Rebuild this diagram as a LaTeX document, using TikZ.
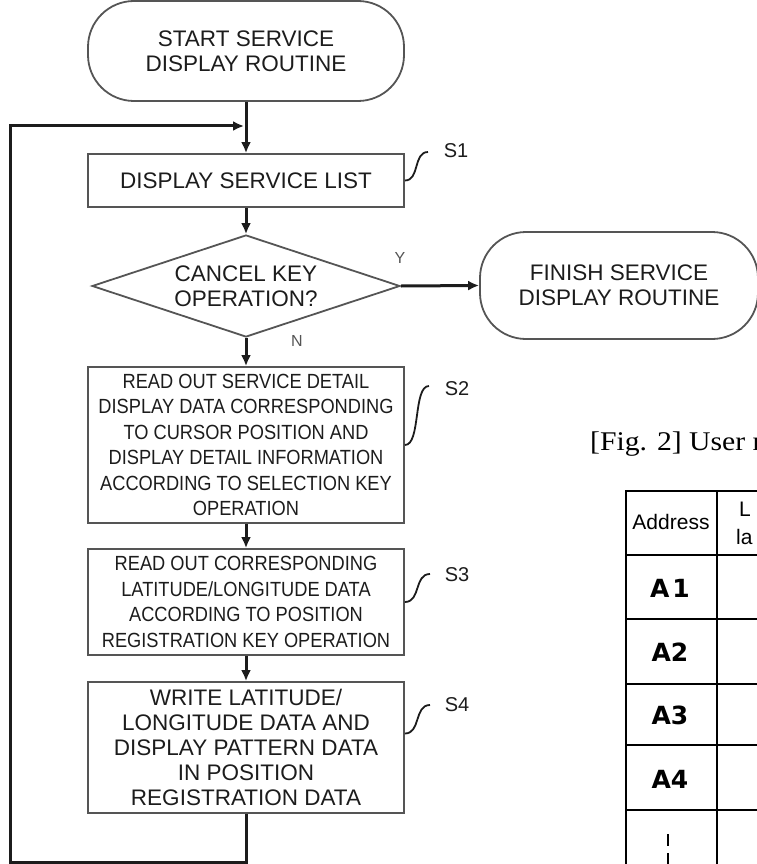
\documentclass[tikz,border=0pt]{standalone}
\usepackage{fontspec}
\setmainfont{Liberation Sans}
\newfontfamily\narrowfont{Liberation Sans}[FakeStretch=0.89]
\newfontfamily\capfont{Liberation Serif}[FakeStretch=1.1]
\newfontfamily\cellfont{DejaVu Sans}
\usetikzlibrary{arrows.meta,shapes.geometric}
\newcommand\bigtxt{\fontsize{22.5}{25}\selectfont}
\newcommand\smtxt{\narrowfont\fontsize{20.5}{25.5}\selectfont}
\definecolor{edge}{HTML}{555555}
\definecolor{ink}{HTML}{1C1C1C}
\tikzset{
  stepbox/.style={draw=edge, line width=1.8pt, rectangle, minimum width=316pt,
    inner sep=0pt, align=center, text=ink},
  termbox/.style={draw=edge, line width=1.8pt, rectangle, rounded corners=46pt,
    inner sep=0pt, align=center, text=ink, font=\bigtxt},
  decision/.style={draw=edge, line width=1.8pt, diamond, aspect=3, inner sep=0pt,
    minimum width=308pt, minimum height=102pt, align=center, text=ink, font=\bigtxt},
  flow/.style={draw=ink, line width=3pt},
  flowarrow/.style={flow, -{Latex[length=11pt,width=10pt]}},
  squiggle/.style={draw=ink, line width=1.8pt},
  steplabel/.style={text=ink, font=\fontsize{20}{22}\selectfont, inner sep=0pt},
  branch/.style={text=edge, font=\fontsize{16}{18}\selectfont, inner sep=0pt},
  grid/.style={draw=black, line width=2.8pt},
  headtext/.style={inner sep=0pt, font=\fontsize{21}{23}\selectfont},
  cell/.style={font=\cellfont\bfseries\fontsize{25}{27}\selectfont, inner sep=0pt},
}
\begin{document}
\begin{tikzpicture}[x=1pt,y=-1pt]
\useasboundingbox (0,0) rectangle (757,864);
\clip (0,0) rectangle (757,864);

% ---- flowchart nodes ----
\node[termbox, minimum width=316pt, minimum height=100pt] (start) at (246,51)
  {START SERVICE\\DISPLAY ROUTINE};
\node[stepbox, minimum height=53pt, font=\bigtxt] (s1) at (246,180.5)
  {DISPLAY SERVICE LIST};
\node[decision] (dec) at (246,286) {CANCEL KEY\\OPERATION?};
\node[termbox, minimum width=278pt, minimum height=107pt] (fin) at (619,285.5)
  {FINISH SERVICE\\DISPLAY ROUTINE};
\node[stepbox, minimum height=156pt, font=\smtxt] (s2) at (246,445)
  {READ OUT SERVICE DETAIL\\DISPLAY DATA CORRESPONDING\\TO CURSOR POSITION AND\\
   DISPLAY DETAIL INFORMATION\\ACCORDING TO SELECTION KEY\\OPERATION};
\node[stepbox, minimum height=106pt, font=\smtxt] (s3) at (246,602)
  {READ OUT CORRESPONDING\\LATITUDE/LONGITUDE DATA\\ACCORDING TO POSITION\\
   REGISTRATION KEY OPERATION};
\node[stepbox, minimum height=131pt, font=\bigtxt] (s4) at (246,747.5)
  {WRITE LATITUDE/\\LONGITUDE DATA AND\\DISPLAY PATTERN DATA\\IN POSITION\\
   REGISTRATION DATA};

\node[branch] (yes) at (400,258) {Y};
\node[branch] (no) at (297,341) {N};

% ---- step labels with their leader curves ----
\node[steplabel] (l1) at (456,151) {S1};
\node[steplabel] (l2) at (457,389) {S2};
\node[steplabel] (l3) at (457,575) {S3};
\node[steplabel] (l4) at (457,705) {S4};
\coordinate (e1) at (428,152);
\coordinate (e2) at (429,386);
\coordinate (e3) at (430,574);
\coordinate (e4) at (430,705);
\draw[squiggle] (s1.east) .. controls +(15,0) and +(-15,0) .. (e1);
\draw[squiggle] (s2.east) .. controls +(16,0) and +(-16,0) .. (e2);
\draw[squiggle] (s3.east) .. controls +(16,0) and +(-16,0) .. (e3);
\draw[squiggle] ([yshift=14pt]s4.east) .. controls +(16,0) and +(-16,0) .. (e4);

% ---- connectors ----
\coordinate (join) at (246,126);
\coordinate (lb) at (246,862);
\coordinate (ll) at (10,862);
\coordinate (lt) at (10,126);
\draw[flow] (start) -- (join);
\draw[flowarrow] (join) -- (s1);
\draw[flowarrow] (s1) -- (dec);
\draw[flowarrow] (dec.east) -- (fin.west);
\draw[flowarrow] (dec.south) -- (s2);
\draw[flowarrow] (s2) -- (s3);
\draw[flowarrow] (s3) -- (s4);
\draw[flowarrow] (s4) -- (lb) -- (ll) -- (lt) -- ([xshift=-2pt]join);

% ---- Fig. 2 caption and table ----
\node[anchor=base west, inner sep=0pt] (cap) at (590,450)
  {\capfont\fontsize{27}{30}\selectfont [Fig. 2] User r};

\draw[grid] (626,491) -- (626,870);
\draw[grid] (717,491) -- (717,870);
\foreach \yy in {491,555,619,684,745,810}
  \draw[grid] (625,\yy) -- (765,\yy);

\node[headtext] (addr) at (671,522) {Address};
\node[headtext, anchor=west] (h2a) at (739,509) {L};
\node[headtext, anchor=west] (h2b) at (736,537) {la};
\node[cell] (a1) at (670,588) {A\kern3pt1};
\node[cell] (a2) at (670,652) {A2};
\node[cell] (a3) at (670,715) {A3};
\node[cell] (a4) at (670,779) {A4};
\draw[grid] (668,834) -- (668,846);
\draw[grid] (668,853) -- (668,870);
\end{tikzpicture}
\end{document}
